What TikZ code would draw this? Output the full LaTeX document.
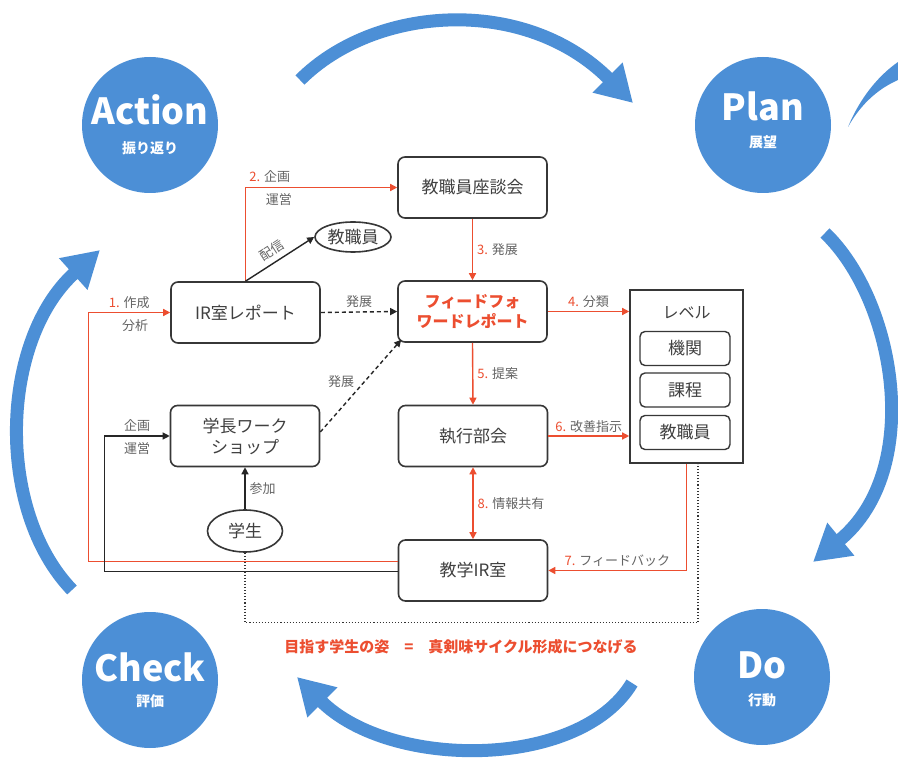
\documentclass[tikz,border=0pt]{standalone}
\usepackage{fontspec}
\setmainfont{Noto Sans CJK JP}
\usetikzlibrary{arrows.meta,shapes.geometric}
\definecolor{pblue}{RGB}{76,143,214}
\definecolor{myred}{RGB}{236,78,48}
\definecolor{txtgray}{RGB}{64,64,64}
\definecolor{labgray}{RGB}{100,100,100}
\definecolor{edge}{RGB}{55,55,55}
\begin{document}
\begin{tikzpicture}[x=1pt,y=-1pt,
  pdca/.style={circle,fill=pblue,minimum size=136pt,inner sep=0pt},
  bigt/.style={text=white,inner sep=0pt,font=\fontsize{36}{36}\selectfont\bfseries},
  subt/.style={text=white,inner sep=0pt,font=\fontsize{14}{14}\selectfont\bfseries},
  box/.style={draw=edge,line width=1.6pt,rounded corners=7pt,minimum width=149pt,minimum height=61pt,inner sep=0pt,align=center,text=txtgray,font=\fontsize{17}{21}\selectfont},
  sbox/.style={draw=edge,line width=1.4pt,rounded corners=5pt,minimum width=90pt,minimum height=34pt,inner sep=0pt,text=txtgray,font=\fontsize{17}{20}\selectfont},
  ell/.style={ellipse,draw=edge,line width=1.6pt,inner sep=0pt,text=txtgray,font=\fontsize{17}{20}\selectfont},
  lab/.style={text=labgray,font=\fontsize{13}{15}\selectfont,inner sep=2pt},
  rline/.style={draw=myred,line width=1.4pt},
  bline/.style={draw=black!85,line width=1.4pt},
  arr/.style={-{Triangle[length=7pt,width=7pt]}},
  cyc/.style={draw=pblue,line width=13pt,-{Triangle[length=36pt,width=40pt]}},
]
\fill[white] (0,0) rectangle (898,762);
\useasboundingbox (0,0) rectangle (898,762);

% cycle arcs
\draw[cyc] (300,80) .. controls (375,5) and (525,-5) .. (633,103);
\draw[cyc] (825,233) .. controls (895,300) and (925,470) .. (813,562);
\draw[cyc] (632,683) .. controls (580,770) and (390,770) .. (297,677);
\draw[cyc] (72,590) .. controls (-5,510) and (0,340) .. (100,250);
\fill[pblue] (848,127) .. controls (860,98) and (878,76) .. (898,62) -- (898,80) .. controls (880,88) and (862,102) .. cycle;

% PDCA circles
\node[pdca] (act) at (150,125) {};
\node[bigt] (actt) at (150,110) {Action};
\node[subt] (acts) at (150,148) {振り返り};
\node[pdca] (pln) at (763,125) {};
\node[bigt] (plnt) at (763,106) {Plan};
\node[subt] (plns) at (763,142) {展望};
\node[pdca] (chk) at (150,680) {};
\node[bigt] (chkt) at (150,667) {Check};
\node[subt] (chks) at (150,701) {評価};
\node[pdca] (do) at (762,677) {};
\node[bigt] (dot) at (762,665) {Do};
\node[subt] (dos) at (762,700) {行動};

% boxes
\node[box] (ir) at (245.5,312.5) {IR室レポート};
\node[box] (zd) at (472.5,187.5) {教職員座談会};
\node[box,text=myred,font=\fontsize{16}{20}\selectfont\bfseries] (ff) at (472.5,311.5) {フィードフォ\\ワードレポート};
\node[ell,minimum width=76pt,minimum height=30pt] (ks) at (353,237) {教職員};
\node[box] (gk) at (245,436) {学長ワーク\\ショップ};
\node[ell,minimum width=75pt,minimum height=42pt] (gs) at (245,531) {学生};
\node[box] (sk) at (473,436) {執行部会};
\node[box] (kir) at (473,570.5) {教学IR室};

% level box
\node[draw=edge,line width=1.6pt,minimum width=113pt,minimum height=173pt,inner sep=0pt] (lv) at (686.5,376.5) {};
\node[text=txtgray,font=\fontsize{16}{18}\selectfont] (lvt) at (686.5,313) {レベル};
\node[sbox] (kk) at (685,348.5) {機関};
\node[sbox] (kt) at (685,390) {課程};
\node[sbox] (kl) at (685,432.5) {教職員};

% connectors
\draw[rline,arr] ([yshift=9pt]kir.west) -| ([xshift=-82pt]ir.west) -- (ir.west)
  node[lab,midway,above,yshift=1pt]{\textcolor{myred}{1.} 作成}
  node[lab,midway,below,xshift=6pt,yshift=-4pt]{分析};
\draw[bline,line width=1.2pt,arr] ([yshift=-1pt]kir.west) -| ([xshift=-65pt]gk.west) -- (gk.west)
  node[lab,midway,above,yshift=2pt]{企画}
  node[lab,midway,below,yshift=-4pt]{運営};
\draw[rline,arr] (ir.north) |- (zd.west)
  node[lab,pos=0.58,above,yshift=2pt]{\textcolor{myred}{2.} 企画}
  node[lab,pos=0.61,below,yshift=-3pt]{運営};
\draw[bline,arr] (ir.north) -- (ks.west) node[lab,pos=0.47,sloped,above=3pt]{配信};
\draw[bline,dash pattern=on 4pt off 3pt,arr] (ir.east) -- (ff.west) node[lab,midway,above,yshift=2pt]{発展};
\draw[bline,dash pattern=on 4pt off 3pt,arr] ([yshift=4pt]gk.east) -- ([xshift=4pt,yshift=3pt]ff.south west) node[lab,pos=0.45,above left]{発展};
\draw[rline,arr] (zd.south) -- (ff.north) node[lab,midway,right,xshift=2pt]{\textcolor{myred}{3.} 発展};
\draw[rline,arr] (ff.east) -- (ff.east -| lv.west) node[lab,midway,above,yshift=1pt]{\textcolor{myred}{4.} 分類};
\draw[rline,arr] (ff.south) -- (sk.north) node[lab,midway,right,xshift=2pt]{\textcolor{myred}{5.} 提案};
\draw[rline,arr] (sk.east) -- (sk.east -| lv.west) node[lab,midway,above,yshift=1pt]{\textcolor{myred}{6.} 改善指示};
\draw[rline,arr] (lv.south) |- (kir.east) node[lab,pos=0.75,above,yshift=1pt]{\textcolor{myred}{7.} フィードバック};
\draw[rline,{Triangle[length=7pt,width=7pt]}-{Triangle[length=7pt,width=7pt]}] (sk.south) -- (kir.north) node[lab,midway,right,xshift=2pt]{\textcolor{myred}{8.} 情報共有};
\draw[bline,arr] (gs.north) -- (gk.south) node[lab,midway,right,xshift=2pt]{参加};
\draw[black!80,line width=1.1pt,dotted] (gs.south) |- ([xshift=11.5pt,yshift=-159pt]lv.south) -- ([xshift=11.5pt]lv.south);

% goal text
\node[text=myred,inner sep=0pt,font=\fontsize{15}{15}\selectfont\bfseries] (goal) at (461,647) {目指す学生の姿\quad=\quad 真剣味サイクル形成につなげる};
\end{tikzpicture}
\end{document}
